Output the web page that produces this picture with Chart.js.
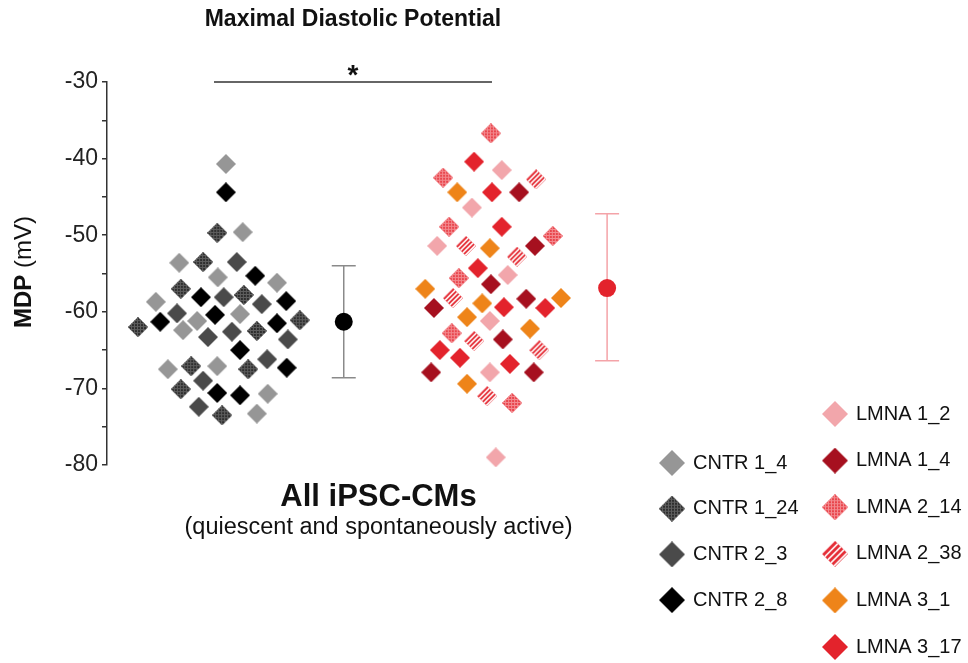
<!DOCTYPE html>
<html lang="en">
<head>
<meta charset="UTF-8">
<title>Maximal Diastolic Potential</title>
<script src="https://cdn.jsdelivr.net/npm/chart.js"></script>
<style>
  body { margin: 0; background: #fff; }
</style>
</head>
<body>
<canvas id="mdp" width="968" height="663"></canvas>
<script>
// x runs 0..10 (CNTR cloud near 2, LMNA cloud near 7), y is MDP in mV
const CNTR_1_4 = [[2.19,-40.7],[2.50,-49.6],[1.33,-53.6],[2.04,-55.5],[3.13,-56.2],[0.90,-58.7],[1.66,-61.2],
                  [2.45,-60.3],[1.40,-62.4],[1.12,-67.5],[2.03,-67.1],[2.96,-70.7],[2.76,-73.3]];
const CNTR_1_24 = [[2.03,-49.7],[1.77,-53.5],[1.36,-57.0],[2.52,-57.8],[0.57,-62.0],[3.55,-61.1],[2.76,-62.5],
                   [1.55,-67.1],[2.60,-67.5],[1.36,-70.1],[2.12,-73.5]];
const CNTR_2_3 = [[2.39,-53.5],[2.15,-58.1],[2.85,-59.0],[1.29,-60.2],[1.86,-63.3],[2.30,-62.6],[3.33,-63.6],
                  [2.95,-66.2],[1.77,-69.0],[1.69,-72.4]];
const CNTR_2_8 = [[2.19,-44.4],[2.73,-55.3],[1.73,-58.1],[3.30,-58.6],[0.98,-61.3],[1.99,-60.4],[3.13,-61.5],
                  [2.45,-65.0],[3.31,-67.3],[2.03,-70.6],[2.45,-70.9]];

const LMNA_1_2 = [[7.27,-41.5],[6.72,-46.4],[6.08,-51.4],[7.38,-55.2],[7.05,-61.2],[7.05,-67.9],[7.16,-79.0]];
const LMNA_1_4 = [[7.59,-44.4],[7.88,-51.4],[7.07,-56.4],[7.72,-58.3],[6.02,-59.5],[7.29,-63.6],[5.97,-67.9],[7.86,-67.9]];
const LMNA_2_14 = [[7.07,-36.7],[6.19,-42.5],[6.30,-48.9],[8.21,-50.1],[6.48,-55.6],[6.35,-62.8],[7.46,-71.9]];
const LMNA_2_38 = [[7.90,-42.7],[6.61,-51.4],[7.55,-52.8],[6.37,-58.2],[6.76,-63.8],[7.96,-65.0],[7.00,-71.0]];
const LMNA_3_1 = [[6.45,-44.4],[7.05,-51.7],[5.86,-57.0],[6.91,-58.9],[8.36,-58.2],[6.63,-60.7],[7.79,-62.2],[6.63,-69.4]];
const LMNA_3_17 = [[6.76,-40.4],[7.09,-44.4],[7.27,-48.9],[6.83,-54.3],[7.31,-59.4],[8.07,-59.5],[6.13,-65.0],
                   [6.50,-66.0],[7.42,-66.8]];

// group mean +/- SD
const groupNames = ['CNTR', 'LMNA'];
const meanX = [4.36, 9.21];
const meanY = [-61.3, -56.9];
const sdHigh = [-54.0, -47.2];
const sdLow = [-68.6, -66.4];

const yTickLabels = [-80, -70, -60, -50, -40, -30];
const sigFrom = 1.97, sigTo = 7.09; // bracket over the two clouds

const FONT = '"Liberation Sans", Arial, sans-serif';

// diamond marker, optionally with a texture
function diamond(size, fill, texture, ink) {
    const c = document.createElement('canvas');
    c.width = c.height = size;
    const g = c.getContext('2d');
    const h = size / 2;
    g.beginPath();
    g.moveTo(h, 0); g.lineTo(size, h); g.lineTo(h, size); g.lineTo(0, h);
    g.closePath();
    g.fillStyle = fill;
    g.fill();
    g.save();
    g.clip();
    if (texture === 'grid') {
        g.strokeStyle = ink;
        g.lineWidth = 1;
        for (let k = 0.5; k < size; k += 3) {
            g.beginPath(); g.moveTo(k, 0); g.lineTo(k, size); g.stroke();
            g.beginPath(); g.moveTo(0, k); g.lineTo(size, k); g.stroke();
        }
    } else if (texture === 'stripes') {
        g.strokeStyle = ink;
        g.lineWidth = 1.6;
        for (let k = -size; k < 2 * size; k += size / 4.2) {
            g.beginPath(); g.moveTo(k, size); g.lineTo(k + size, 0); g.stroke();
        }
    }
    g.restore();
    return c;
}

const samples = [
    { name: 'CNTR 1_4',  data: CNTR_1_4,  fill: '#969696' },
    { name: 'CNTR 1_24', data: CNTR_1_24, fill: '#2e2e2e', texture: 'grid', ink: '#5e5e5e' },
    { name: 'CNTR 2_3',  data: CNTR_2_3,  fill: '#4a4a4a' },
    { name: 'CNTR 2_8',  data: CNTR_2_8,  fill: '#000000' },
    { name: 'LMNA 1_2',  data: LMNA_1_2,  fill: '#f2a6ab' },
    { name: 'LMNA 1_4',  data: LMNA_1_4,  fill: '#a6101f' },
    { name: 'LMNA 2_14', data: LMNA_2_14, fill: '#e9464d', texture: 'grid', ink: '#f38a8f' },
    { name: 'LMNA 2_38', data: LMNA_2_38, fill: '#e52d36', texture: 'stripes', ink: '#ffffff' },
    { name: 'LMNA 3_1',  data: LMNA_3_1,  fill: '#ee8419' },
    { name: 'LMNA 3_17', data: LMNA_3_17, fill: '#e3232c' }
];
samples.forEach(s => {
    s.marker = diamond(20, s.fill, s.texture, s.ink);
    s.legendMarker = diamond(26, s.fill, s.texture, s.ink);
});

const datasets = samples.map(s => ({
    label: s.name,
    data: s.data.map(p => ({ x: p[0], y: p[1] })),
    pointStyle: s.marker,
    clip: false
}));
datasets.push({
    label: 'mean',
    data: meanX.map((x, i) => ({ x: x, y: meanY[i] })),
    pointStyle: 'circle',
    pointRadius: 9,
    borderWidth: 0,
    backgroundColor: ['#000000', '#e3232c'],
    clip: false
});

const annotate = {
    id: 'annotate',
    beforeDatasetsDraw(chart) {
        const { ctx, scales: { x, y } } = chart;
        const colors = ['#8a8a8a', '#f4a3a8'];
        ctx.save();
        ctx.lineWidth = 1.5;
        meanX.forEach((mx, i) => {
            const px = x.getPixelForValue(mx);
            const top = y.getPixelForValue(sdHigh[i]);
            const bot = y.getPixelForValue(sdLow[i]);
            ctx.strokeStyle = colors[i];
            ctx.beginPath();
            ctx.moveTo(px, top); ctx.lineTo(px, bot);
            ctx.moveTo(px - 12, top); ctx.lineTo(px + 12, top);
            ctx.moveTo(px - 12, bot); ctx.lineTo(px + 12, bot);
            ctx.stroke();
        });
        ctx.restore();
    },
    afterDraw(chart) {
        const { ctx, chartArea, scales: { x, y } } = chart;
        ctx.save();
        ctx.fillStyle = '#111';

        // significance bracket
        const x1 = x.getPixelForValue(sigFrom), x2 = x.getPixelForValue(sigTo);
        const yb = y.getPixelForValue(-30);
        ctx.strokeStyle = '#333';
        ctx.lineWidth = 1.5;
        ctx.beginPath(); ctx.moveTo(x1, yb); ctx.lineTo(x2, yb); ctx.stroke();
        ctx.textAlign = 'center';
        ctx.textBaseline = 'alphabetic';
        ctx.font = 'bold 28px ' + FONT;
        ctx.fillText('*', (x1 + x2) / 2, yb + 2);

        // title
        ctx.font = 'bold 23px ' + FONT;
        ctx.textBaseline = 'middle';
        ctx.fillText('Maximal Diastolic Potential', (x1 + x2) / 2, 20);

        // x caption
        const cx = (chartArea.left + chartArea.right) / 2;
        ctx.font = 'bold 31px ' + FONT;
        ctx.fillText('All iPSC-CMs', cx, 497);
        ctx.font = '23.5px ' + FONT;
        ctx.fillText('(quiescent and spontaneously active)', cx, 528);

        // y title, bold + regular
        ctx.translate(24, 272);
        ctx.rotate(-Math.PI / 2);
        ctx.textAlign = 'left';
        ctx.font = 'bold 24px ' + FONT;
        const w1 = ctx.measureText('MDP ').width;
        ctx.font = '24px ' + FONT;
        const w2 = ctx.measureText('(mV)').width;
        ctx.font = 'bold 24px ' + FONT;
        ctx.fillText('MDP', -(w1 + w2) / 2, 0);
        ctx.font = '24px ' + FONT;
        ctx.fillText('(mV)', -(w1 + w2) / 2 + w1, 0);
        ctx.restore();

        // legend, two columns
        ctx.save();
        ctx.font = '20px ' + FONT;
        ctx.fillStyle = '#111';
        ctx.textBaseline = 'middle';
        ctx.textAlign = 'left';
        const cntr = samples.filter(s => s.name.startsWith('CNTR'));
        const lmna = samples.filter(s => s.name.startsWith('LMNA'));
        cntr.forEach((s, i) => {
            const cy = 463 + i * 45.7;
            ctx.drawImage(s.legendMarker, 672 - 13, cy - 13);
            ctx.fillText(s.name, 693, cy);
        });
        lmna.forEach((s, i) => {
            const cy = 414 + i * 46.6;
            ctx.drawImage(s.legendMarker, 835 - 13, cy - 13);
            ctx.fillText(s.name, 856, cy);
        });
        ctx.restore();
    }
};

new Chart(document.getElementById('mdp'), {
    type: 'scatter',
    data: { datasets: datasets },
    options: {
        responsive: false,
        animation: false,
        events: [],
        layout: { padding: { left: 0, right: 318, top: 82, bottom: 198 } },
        plugins: { legend: { display: false }, tooltip: { enabled: false } },
        scales: {
            x: { type: 'linear', min: 0, max: 10, display: false },
            y: {
                min: -80,
                max: -30,
                afterFit(scale) { scale.width = 107; },
                border: { display: true, color: '#333', width: 1.5 },
                grid: { drawOnChartArea: false, tickLength: 5, tickColor: '#333', lineWidth: 1.5 },
                ticks: {
                    stepSize: 5,
                    padding: 4,
                    color: '#222',
                    font: { family: FONT, size: 23 },
                    callback: v => yTickLabels.includes(v) ? String(v) : ''
                }
            }
        }
    },
    plugins: [annotate]
});
</script>
</body>
</html>
